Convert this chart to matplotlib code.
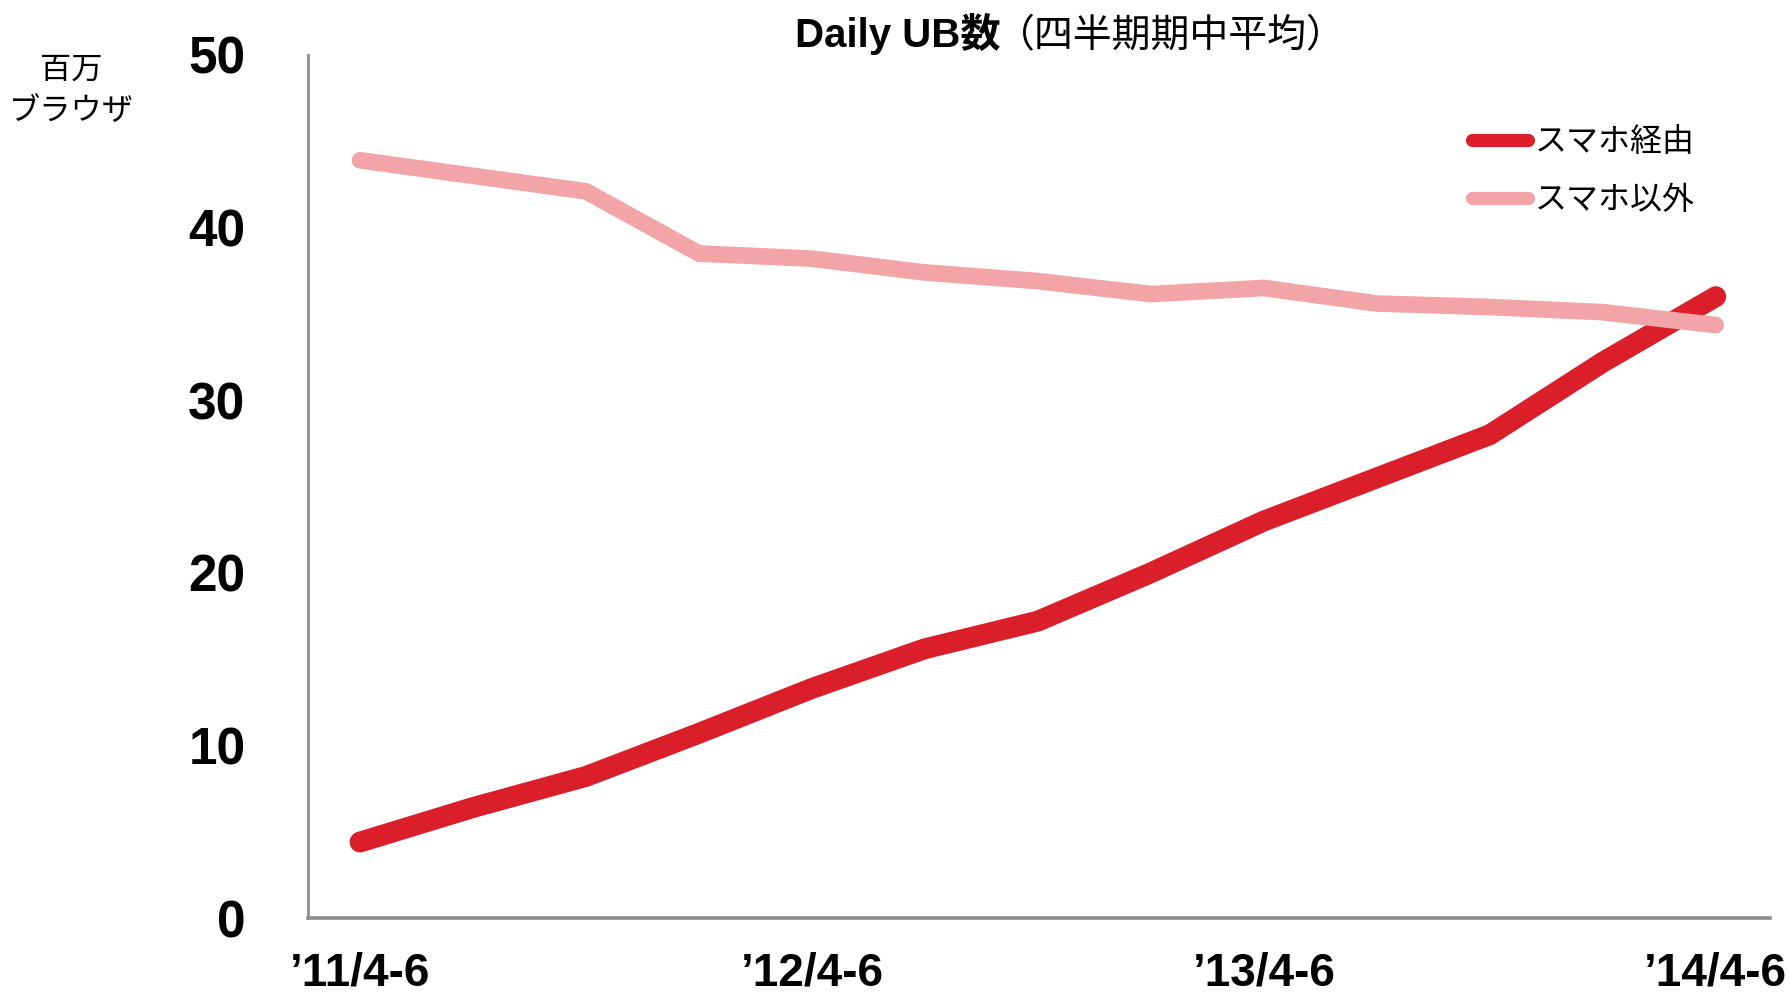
import matplotlib.pyplot as plt

# -----------------------------
# Data (million browsers, quarterly average)
# -----------------------------
quarters = ["’11/4-6", "’11/7-9", "’11/10-12", "’12/1-3", "’12/4-6", "’12/7-9", "’12/10-12",
            "’13/1-3", "’13/4-6", "’13/7-9", "’13/10-12", "’14/1-3", "’14/4-6"]
smartphone = [4.4, 6.4, 8.2, 10.7, 13.3, 15.6, 17.2, 20.0, 23.0, 25.5, 28.0, 32.2, 36.0]
non_smartphone = [43.9, 43.0, 42.1, 38.5, 38.2, 37.4, 36.9, 36.15, 36.5, 35.6, 35.4, 35.1, 34.35]
tick_idx = [0, 4, 8, 12]
yticks = [0, 10, 20, 30, 40, 50]

plt.rcParams['font.family'] = ['Liberation Sans', 'Noto Sans CJK JP']

fig = plt.figure(figsize=(17.91, 9.93), dpi=100)
W, H = 1791, 993
ax = fig.add_axes([308 / W, 1 - 918 / H, (1770 - 308) / W, (918 - 55) / H])

x = list(range(len(quarters)))
ax.plot(x, smartphone, color='#DA1F2A', lw=15, solid_capstyle='round',
        solid_joinstyle='miter', label='スマホ経由')
ax.plot(x, non_smartphone, color='#F2A4A6', lw=12, solid_capstyle='round',
        solid_joinstyle='miter', label='スマホ以外')

ax.set_xlim(-0.46, 12.48)
ax.set_ylim(0, 50)
ax.set_yticks(yticks)
ax.set_yticklabels([str(v) for v in yticks], fontsize=37, fontweight='bold')
ax.set_xticks(tick_idx)
ax.set_xticklabels([quarters[i] for i in tick_idx], fontsize=33, fontweight='bold')
ax.tick_params(axis='y', length=0, pad=45)
ax.tick_params(axis='x', length=0, pad=24)

for s in ['top', 'right']:
    ax.spines[s].set_visible(False)
ax.spines['left'].set_color('#8c8c8c')
ax.spines['left'].set_linewidth(2)
ax.spines['bottom'].set_color('#8c8c8c')
ax.spines['bottom'].set_linewidth(2.6)

leg = ax.legend(loc='upper left', bbox_to_anchor=(1472 / W, 1 - 126 / H),
                bbox_transform=fig.transFigure, frameon=False,
                prop={'family': 'Noto Sans CJK JP', 'size': 23},
                handlelength=1.76, handletextpad=0.2, labelspacing=0.82,
                borderpad=0, borderaxespad=0)
for h in leg.get_lines():
    h.set_linewidth(9.5)

# title: bold part + regular part
fig.text(1001 / W, 1 - 47 / H, 'Daily UB数', ha='right', va='baseline',
         fontsize=29, fontweight='bold')
fig.text(996 / W, 1 - 47 / H, '（四半期期中平均）', ha='left', va='baseline',
         fontsize=28, family='Noto Sans CJK JP')

# y unit label
fig.text(71 / W, 1 - 70 / H, '百万', ha='center', va='center', fontsize=22.5,
         family='Noto Sans CJK JP')
fig.text(71 / W, 1 - 111 / H, 'ブラウザ', ha='center', va='center', fontsize=22.5,
         family='Noto Sans CJK JP')

plt.savefig('out.png', dpi=100)
plt.close()
